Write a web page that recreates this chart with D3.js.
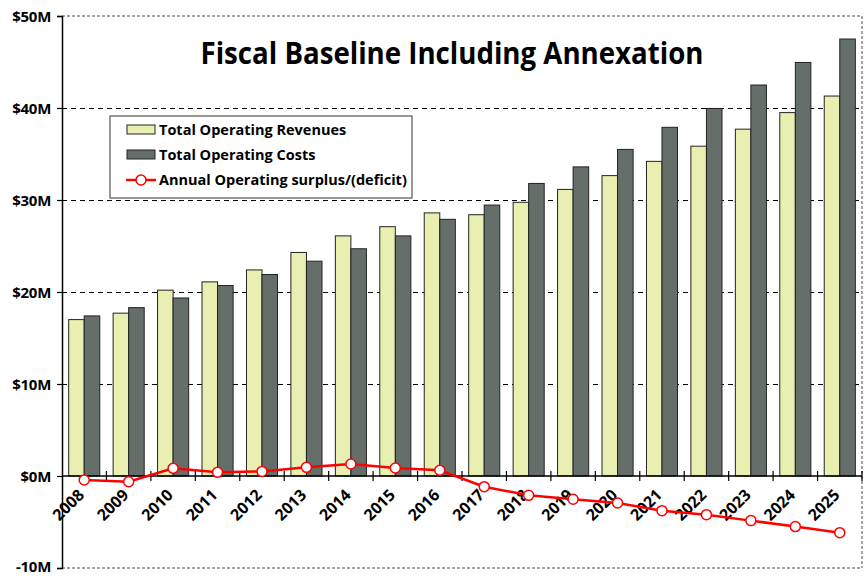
<!DOCTYPE html>
<html><head><meta charset="utf-8">
<script src="https://cdn.jsdelivr.net/npm/d3@7/dist/d3.min.js"></script>
<style>
html,body{margin:0;padding:0;background:#fff;}
svg{display:block;font-family:"Open Sans",sans-serif;}
</style></head>
<body>
<svg id="chart" width="866" height="576"></svg>
<script>
const years = ["2008","2009","2010","2011","2012","2013","2014","2015","2016","2017","2018","2019","2020","2021","2022","2023","2024","2025"];
const revenues = [17.0,17.7,20.2,21.1,22.4,24.3,26.1,27.1,28.6,28.4,29.75,31.15,32.65,34.2,35.85,37.7,39.5,41.3];
const costs = [17.4,18.3,19.35,20.7,21.9,23.35,24.7,26.1,27.9,29.45,31.8,33.6,35.5,37.9,39.95,42.5,44.95,47.5];
const surplus = [-0.43,-0.62,0.83,0.4,0.5,0.94,1.3,0.87,0.62,-1.16,-2.1,-2.53,-2.93,-3.77,-4.2,-4.85,-5.5,-6.16];
const yTicks = [-10,0,10,20,30,40,50];
const yTickLabels = ["-10M","$0M","$10M","$20M","$30M","$40M","$50M"];
const seriesNames = ["Total Operating Revenues","Total Operating Costs","Annual Operating surplus/(deficit)"];
const titleText = "Fiscal Baseline Including Annexation";

(function(){
const svg = d3.select("#chart");
const pL = 62, pR = 862, pT = 16, pB = 568;
const x = d3.scaleBand().domain(years).range([pL, pR]).paddingInner(0).paddingOuter(0);
const y = d3.scaleLinear().domain([-10, 50]).range([pB, pT]);
const xs = d3.scaleBand().domain(["rev","cost"]).range([0, x.bandwidth()]).paddingInner(0).paddingOuter(0.43);

const revColor = "#E9EFB1", costColor = "#666E6A";

// gridlines
svg.append("g").selectAll("line").data([10,20,30,40]).join("line")
  .attr("x1", pL).attr("x2", pR).attr("y1", d=>y(d)).attr("y2", d=>y(d))
  .attr("stroke","#000").attr("stroke-width",1).attr("stroke-dasharray","5,4").attr("shape-rendering","crispEdges");
// plot border (gray dashed) top, right, bottom
const border = svg.append("g").attr("stroke","#888").attr("stroke-width",1.5).attr("stroke-dasharray","3,2").attr("fill","none");
border.append("line").attr("x1",pL).attr("x2",pR).attr("y1",y(50)).attr("y2",y(50));
border.append("line").attr("x1",pR).attr("x2",pR).attr("y1",y(50)).attr("y2",y(-10));
border.append("line").attr("x1",pL).attr("x2",pR).attr("y1",y(-10)).attr("y2",y(-10));

// bars
const g = svg.append("g");
years.forEach((yr,i)=>{
  g.append("rect").attr("x", x(yr)+xs("rev")).attr("width", xs.bandwidth())
    .attr("y", y(revenues[i])).attr("height", y(0)-y(revenues[i]))
    .attr("fill", revColor).attr("stroke","#222").attr("stroke-width",1);
  g.append("rect").attr("x", x(yr)+xs("cost")).attr("width", xs.bandwidth())
    .attr("y", y(costs[i])).attr("height", y(0)-y(costs[i]))
    .attr("fill", costColor).attr("stroke","#222").attr("stroke-width",1);
});

// y axis
const yAxis = d3.axisLeft(y).tickValues(yTicks).tickSize(5).tickFormat((d,i)=>yTickLabels[i]);
const ya = svg.append("g").attr("transform",`translate(${pL},0)`).call(yAxis);
ya.select(".domain").attr("stroke","#000").attr("stroke-width",1.5);
ya.selectAll(".tick line").attr("stroke","#000").attr("stroke-width",1.2);
ya.selectAll(".tick text").attr("font-size",15).attr("font-weight",700).attr("fill","#000")
  .attr("font-family","'Open Sans',sans-serif").attr("x",-11)
  .attr("dy",d=> d===-10 ? "0.2em" : "0.35em")
  .attr("letter-spacing","-0.3");

// x axis at zero
const xa = svg.append("g").attr("transform",`translate(0,${y(0)})`);
xa.append("line").attr("x1",pL).attr("x2",pR).attr("stroke","#000").attr("stroke-width",1.5);
xa.selectAll("line.tk").data(years.slice(1)).join("line").attr("class","tk")
  .attr("x1",d=>x(d)).attr("x2",d=>x(d)).attr("y1",-5).attr("y2",5).attr("stroke","#000").attr("stroke-width",1.2);
xa.append("line").attr("x1",pR).attr("x2",pR).attr("y1",-5).attr("y2",5).attr("stroke","#000").attr("stroke-width",1.2);
xa.selectAll("text").data(years).join("text")
  .attr("transform",d=>`translate(${x(d)+x.bandwidth()/2-3},${16}) rotate(-45)`)
  .attr("text-anchor","end").attr("dy","0.35em")
  .attr("font-size",16).attr("font-weight",700).attr("fill","#000").text(d=>d);

// surplus line
const line = d3.line().x((d,i)=>x(years[i])+x.bandwidth()/2).y(d=>y(d));
svg.append("path").datum(surplus).attr("d",line).attr("fill","none").attr("stroke","#FF0000").attr("stroke-width",2.5);
svg.append("g").selectAll("circle").data(surplus).join("circle")
  .attr("cx",(d,i)=>x(years[i])+x.bandwidth()/2).attr("cy",d=>y(d)).attr("r",5)
  .attr("fill","#fff").attr("stroke","#FF0000").attr("stroke-width",1.5);

// title
svg.append("text").attr("x",452).attr("y",64).attr("text-anchor","middle")
  .attr("font-size",30).attr("font-weight",700).attr("fill","#000")
  .attr("textLength",503).attr("lengthAdjust","spacingAndGlyphs").text(titleText);

// legend
const lg = svg.append("g");
lg.append("rect").attr("x",110).attr("y",116).attr("width",302).attr("height",82)
  .attr("fill","#fff").attr("stroke","#555").attr("stroke-width",1.2);
const rows = [130,155,180];
lg.append("rect").attr("x",127).attr("y",rows[0]-5).attr("width",28).attr("height",9).attr("fill",revColor).attr("stroke","#222");
lg.append("rect").attr("x",127).attr("y",rows[1]-5).attr("width",28).attr("height",9).attr("fill",costColor).attr("stroke","#222");
lg.append("line").attr("x1",126).attr("x2",156).attr("y1",rows[2]).attr("y2",rows[2]).attr("stroke","#FF0000").attr("stroke-width",2.5);
lg.append("circle").attr("cx",141).attr("cy",rows[2]).attr("r",5).attr("fill","#fff").attr("stroke","#FF0000").attr("stroke-width",1.5);
lg.selectAll("text").data(seriesNames).join("text")
  .attr("x",159).attr("y",(d,i)=>rows[i]).attr("dy","0.35em")
  .attr("font-size",14.5).attr("font-weight",700).attr("fill","#000").text(d=>d);
})();
</script>
</body></html>
